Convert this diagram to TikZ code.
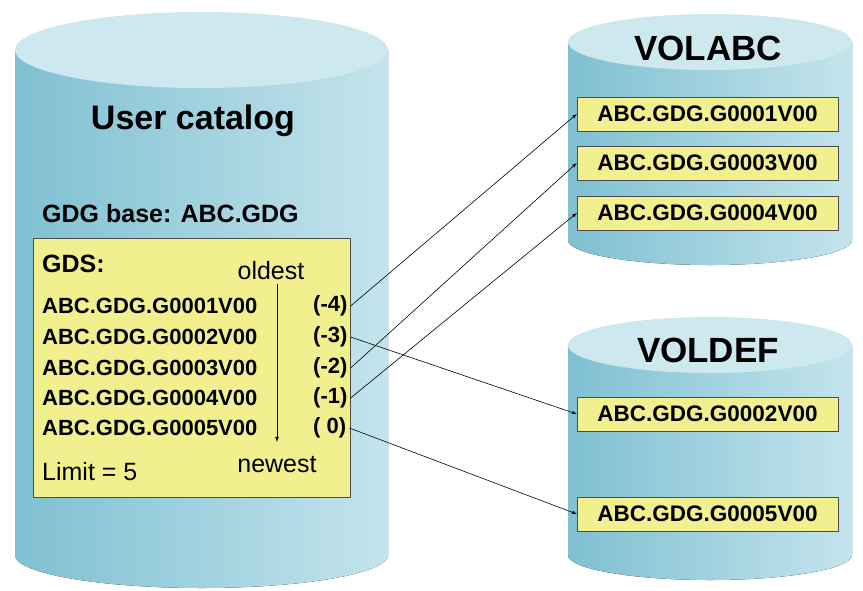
\documentclass[tikz,border=0pt]{standalone}
\usepackage{fontspec}
\setmainfont{Liberation Sans}
\begin{document}
\begin{tikzpicture}[x=1pt,y=-1pt,
  cyl/.style={left color=cylL,right color=cylR,draw=none},
  cyltop/.style={fill=cylT,draw=none},
  ent/.style={font=\fontsize{22}{24}\selectfont\bfseries,inner sep=0pt,anchor=west},
  vbox/.style={draw=black!70,fill=boxY,minimum width=261pt,minimum height=34pt,inner sep=0pt,font=\fontsize{22.5}{24}\selectfont\bfseries},
  con/.style={-latex,black,line width=0.6pt}]
\definecolor{cylL}{HTML}{7FC0D2}
\definecolor{cylR}{HTML}{C4E4EC}
\definecolor{cylT}{HTML}{CDE8EF}
\definecolor{boxY}{HTML}{F2F08E}
\useasboundingbox (0,0) rectangle (863,590);
% left cylinder
\fill[cyl] (15,50) -- (15,555) arc[start angle=180,end angle=0,x radius=186.5,y radius=33] -- (388,50) -- cycle;
\fill[cyltop] (201.5,50) ellipse[x radius=186.5,y radius=38];
% right top
\fill[cyl] (568,42) -- (568,240) arc[start angle=180,end angle=0,x radius=142,y radius=25] -- (852,42) -- cycle;
\fill[cyltop] (710,42) ellipse[x radius=142,y radius=28];
% right bottom
\fill[cyl] (568,345) -- (568,555) arc[start angle=180,end angle=0,x radius=142,y radius=25] -- (852,345) -- cycle;
\fill[cyltop] (710,345) ellipse[x radius=142,y radius=28];
\node[font=\fontsize{34}{38}\selectfont\bfseries] (uc) at (193,121) {User catalog};
\node[font=\fontsize{25}{28}\selectfont\bfseries,anchor=west,inner sep=0pt] (base) at (42,214) {GDG base: ABC.GDG};
\node[draw=black!70,fill=boxY,minimum width=317pt,minimum height=259pt,inner sep=0pt] (gds) at (191.5,367.5) {};
\node[font=\fontsize{25}{28}\selectfont\bfseries,anchor=west,inner sep=0pt] (gdsl) at (42,264) {GDS:};
\node[font=\fontsize{25}{28}\selectfont] (old) at (271,271) {oldest};
\node[font=\fontsize{25}{28}\selectfont] (new) at (277,465) {newest};
\node[font=\fontsize{25}{28}\selectfont,anchor=west,inner sep=0pt] (lim) at (42,472) {Limit = 5};
\node[ent] (e1) at (42,306) {ABC.GDG.G0001V00};
\node[ent] (e2) at (42,337) {ABC.GDG.G0002V00};
\node[ent] (e3) at (42,368) {ABC.GDG.G0003V00};
\node[ent] (e4) at (42,398) {ABC.GDG.G0004V00};
\node[ent] (e5) at (42,428) {ABC.GDG.G0005V00};
\node[ent] (r1) at (313,306) {(-4)};
\node[ent] (r2) at (313,337) {(-3)};
\node[ent] (r3) at (313,368) {(-2)};
\node[ent] (r4) at (313,398) {(-1)};
\node[ent] (r5) at (313,428) {( 0)};
\coordinate (a1) at (277,284);
\coordinate (a2) at (277,442);
\draw[-latex,line width=0.8pt] (a1) -- (a2);
\node[font=\fontsize{35}{38}\selectfont\bfseries] (vabc) at (708,48) {VOLABC};
\node[font=\fontsize{35}{38}\selectfont\bfseries] (vdef) at (708,350) {VOLDEF};
\node[vbox] (b1) at (707.5,114) {ABC.GDG.G0001V00};
\node[vbox] (b3) at (707.5,163) {ABC.GDG.G0003V00};
\node[vbox] (b4) at (707.5,213) {ABC.GDG.G0004V00};
\node[vbox] (b2) at (707.5,414) {ABC.GDG.G0002V00};
\node[vbox] (b5) at (707.5,514) {ABC.GDG.G0005V00};
\draw[con] ([xshift=3pt]r1.east) -- (b1.west);
\draw[con] ([xshift=3pt]r2.east) -- (b2.west);
\draw[con] ([xshift=3pt]r3.east) -- (b3.west);
\draw[con] ([xshift=3pt]r4.east) -- (b4.west);
\draw[con] ([xshift=3pt]r5.east) -- (b5.west);
\end{tikzpicture}
\end{document}
